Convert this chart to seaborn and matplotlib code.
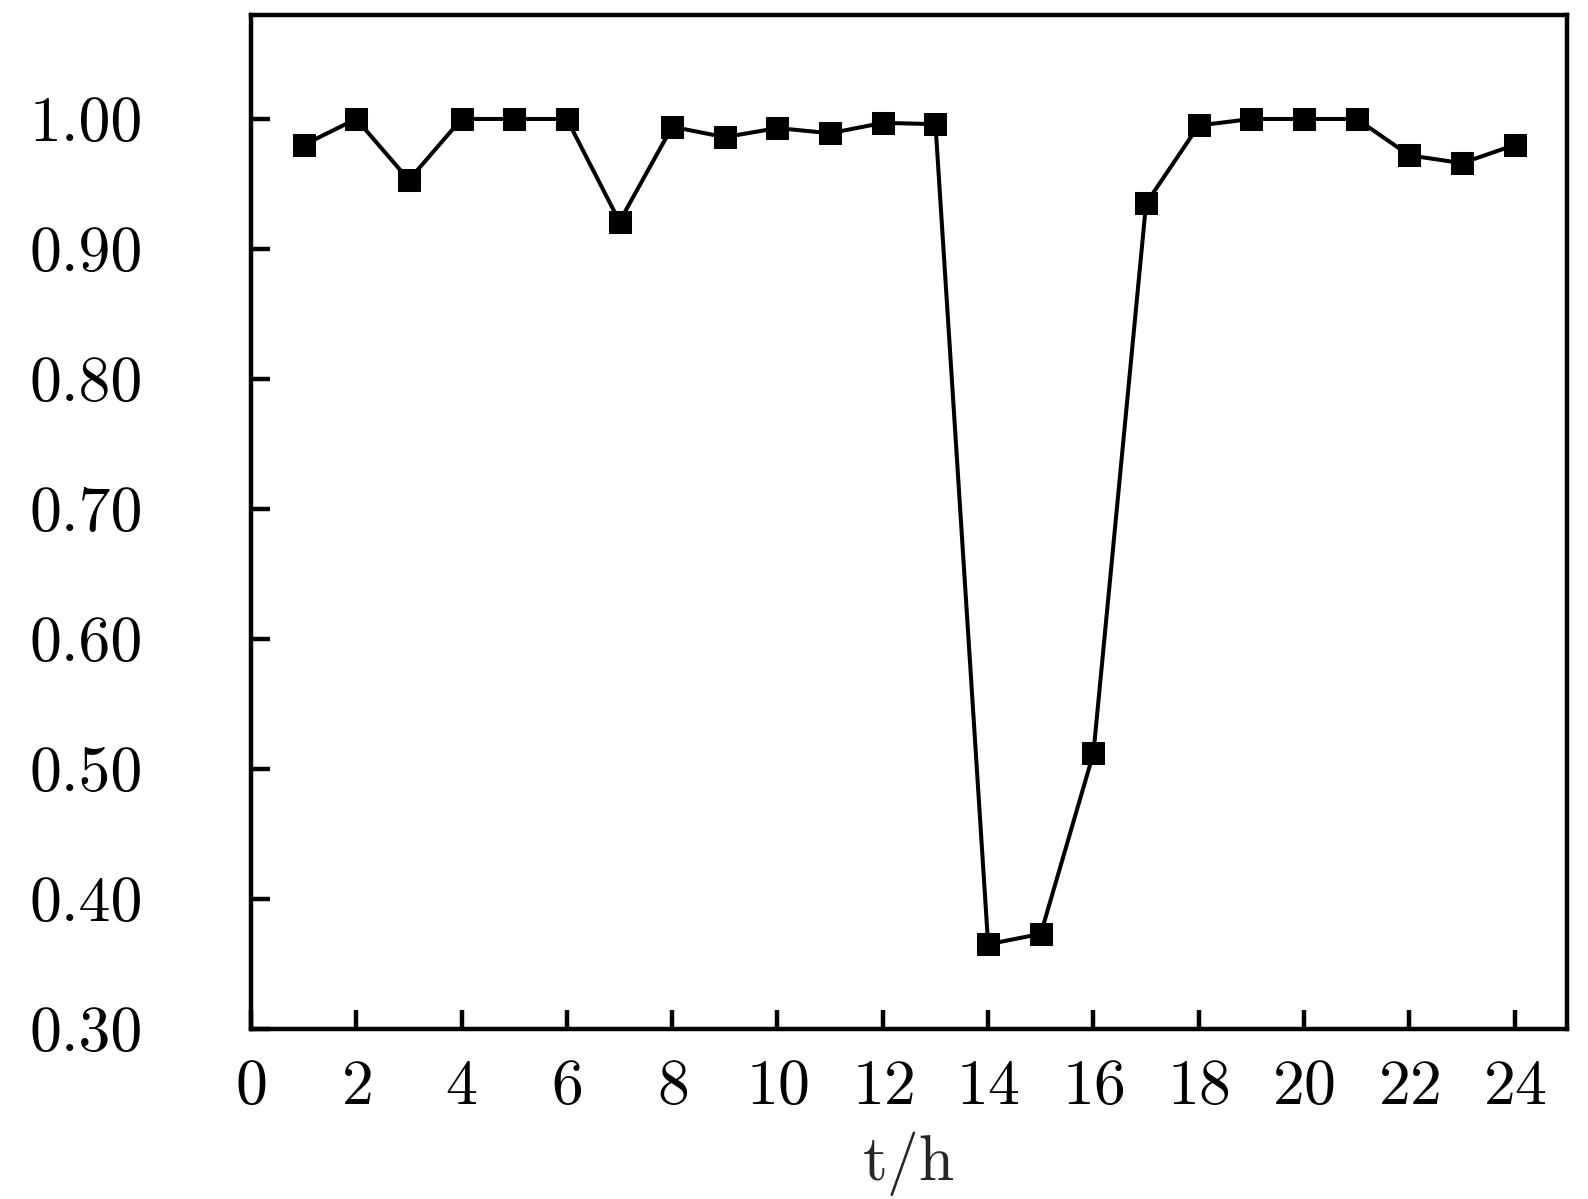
import matplotlib
matplotlib.use("Agg")
import matplotlib.pyplot as plt
import seaborn as sns
import pandas as pd

# 数据
hours = list(range(1, 25))
values = [0.980, 1.000, 0.953, 1.000, 1.000, 1.000, 0.921, 0.994,
          0.986, 0.993, 0.989, 0.997, 0.996, 0.365, 0.373, 0.512,
          0.935, 0.995, 1.000, 1.000, 1.000, 0.972, 0.966, 0.980]
x_ticks = list(range(0, 25, 2))
y_ticks = [0.30, 0.40, 0.50, 0.60, 0.70, 0.80, 0.90, 1.00]

sns.set_theme(style="white")
plt.rcParams['font.family'] = 'serif'
plt.rcParams['font.serif'] = ['cmr10', 'DejaVu Serif']
plt.rcParams['mathtext.fontset'] = 'cm'
plt.rcParams['axes.formatter.use_mathtext'] = True

df = pd.DataFrame({'t': hours, 'v': values})

fig = plt.figure(figsize=(15.88, 11.99), dpi=100)
ax = fig.add_axes([0.158, 0.142, 0.829, 0.8455])

sns.lineplot(data=df, x='t', y='v', ax=ax, color='black', linewidth=2.9,
             marker='s', markersize=16.5, markeredgecolor='black',
             markerfacecolor='black')

ax.set_xlim(0, 25)
ax.set_ylim(0.30, 1.08)
ax.set_xticks(x_ticks)
ax.set_yticks(y_ticks)
ax.set_yticklabels([f'{v:.2f}' for v in y_ticks])
ax.set_xlabel('t/h', fontsize=46, labelpad=10)
ax.set_ylabel('')

for s in ax.spines.values():
    s.set_linewidth(3.2)
    s.set_color('black')

ax.tick_params(axis='both', direction='in', length=14, width=3.2,
               labelsize=46, colors='black', bottom=True, left=True,
               top=False, right=False)
ax.tick_params(axis='x', pad=22)
ax.tick_params(axis='y', pad=78)

fig.savefig('out.png', dpi=100)
